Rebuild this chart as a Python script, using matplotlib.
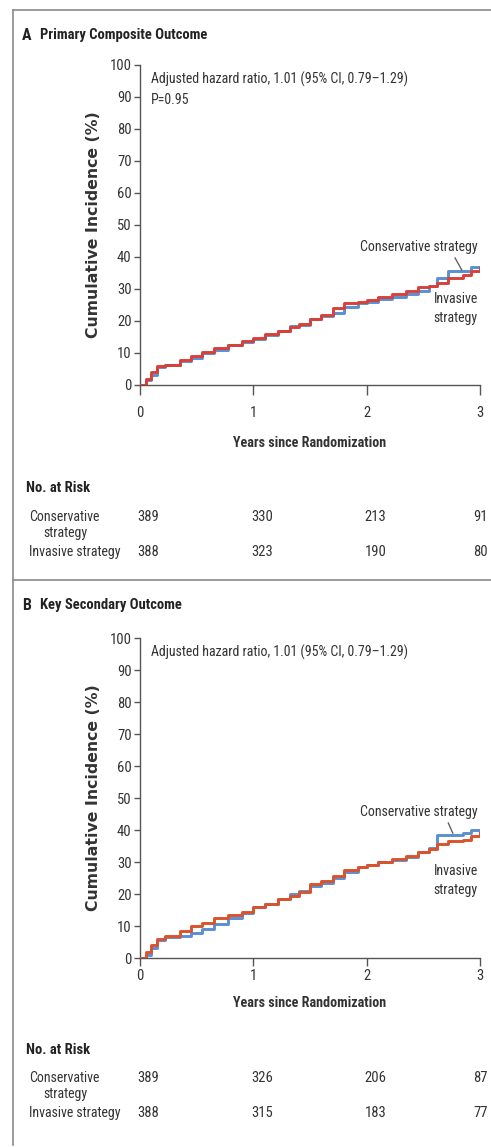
import matplotlib
matplotlib.use("Agg")
import matplotlib.pyplot as plt
import matplotlib.transforms as mtransforms
from matplotlib.lines import Line2D

plt.rcParams['font.family'] = ['Roboto Condensed', 'DejaVu Sans']

W, H = 491, 1147

# follow-up times (years) for the cumulative incidence steps
t_a = [0, 0.05, 0.10, 0.15, 0.22, 0.35, 0.45, 0.55, 0.65, 0.78, 0.90, 1.00, 1.10, 1.22, 1.32,
       1.40, 1.50, 1.60, 1.70, 1.80, 1.92, 2.00, 2.10, 2.22, 2.35, 2.45, 2.55, 2.62, 2.72,
       2.85, 2.92, 3.0]
cons_a = [0, 1.5, 3.0, 5.5, 6.3, 7.5, 8.5, 10, 11, 12.5, 13.5, 14.5, 15.5, 17, 18.5, 18.8,
          20.5, 21.5, 22.5, 24.5, 25.5, 26, 26.8, 27.5, 28.5, 29.5, 31, 33.5, 35.5, 35.5, 37, 37]
inv_a = [0, 2, 4, 5.8, 6.3, 7.8, 9, 10.3, 11.5, 12.5, 13.8, 14.8, 15.8, 17, 18, 19, 20.5, 22,
         24, 25.5, 26, 26.5, 27.5, 28.5, 29.5, 30.5, 31, 32, 33.5, 34.5, 35.5, 36.5]

t_b = t_a
cons_b = [0, 1, 3, 5.5, 6.5, 7.0, 7.8, 9, 10.5, 12.5, 14, 16, 17, 18.5, 20, 21, 22.5, 23.5,
          25, 27, 28.5, 29, 30, 30.5, 31.5, 33, 34.5, 38.5, 38.5, 39, 40, 39.5]
inv_b = [0, 2, 4, 6, 7, 8.5, 10, 11, 12.5, 13.5, 14.5, 15.8, 17, 18.5, 19.5, 20.5, 23, 24,
         25.5, 27.5, 28.5, 29, 30, 31, 32, 33, 34, 35.5, 36.5, 37, 38, 39]

risk_years = [0, 1, 2, 3]
risk_cons_a = [389, 330, 213, 91]
risk_inv_a = [388, 323, 190, 80]
risk_cons_b = [389, 326, 206, 87]
risk_inv_b = [388, 315, 183, 77]

hr_text = "Adjusted hazard ratio, 1.01 (95% CI, 0.79\u20131.29)"

# pixel layout of each panel: axes top/bottom, title row, tick/label offsets, risk rows
panels = [
    dict(letter="A", title="Primary Composite Outcome", top=65, bottom=385, title_y=35,
         t=t_a, cons=cons_a, inv=inv_a, p="P=0.95", red="#d8403a",
         risk_cons=risk_cons_a, risk_inv=risk_inv_a,
         tick_len=7.0, tick_pad=8.0, xlab_y=-0.16,
         rows=(488, 517, 533, 552),
         lab_cons=43, lead=((2.78, 39.7), (2.84, 35.9)), lab_inv=23.8),
    dict(letter="B", title="Key Secondary Outcome", top=638, bottom=958, title_y=605,
         t=t_b, cons=cons_b, inv=inv_b, p=None, red="#d9532c",
         risk_cons=risk_cons_b, risk_inv=risk_inv_b,
         tick_len=5.5, tick_pad=2.5, xlab_y=-0.12,
         rows=(1050, 1078, 1094, 1113),
         lab_cons=45.6, lead=((2.72, 42.2), (2.76, 39.0)), lab_inv=24.3),
]

blue = "#5a8fd2"
grey = "#555555"
txt = "#333333"
dark = "#222222"

fig = plt.figure(figsize=(W / 100, H / 100), dpi=100)


def fy(py):
    return 1 - py / H


# panel frames
frame = dict(color="#8a8a8a", lw=1.2, transform=fig.transFigure)
fig.add_artist(Line2D([13 / W, 1], [fy(10), fy(10)], **frame))
fig.add_artist(Line2D([13 / W, 1], [fy(579.5), fy(579.5)], **frame))
fig.add_artist(Line2D([13 / W, 13 / W], [fy(10), fy(1145)], **frame))

for pn in panels:
    top, bottom = pn["top"], pn["bottom"]
    ax = fig.add_axes([140 / W, fy(bottom), 340 / W, (bottom - top) / H])
    ax.plot(pn["t"], pn["cons"], drawstyle="steps-post", color=blue, lw=2.1, zorder=3)
    ax.plot(pn["t"], pn["inv"], drawstyle="steps-post", color=pn["red"], lw=2.1, zorder=4)
    ax.set_xlim(0, 3)
    ax.set_ylim(0, 100)
    ax.set_xticks(risk_years)
    ax.set_yticks(range(0, 101, 10))
    ax.spines[["top", "right"]].set_visible(False)
    for s in ("left", "bottom"):
        ax.spines[s].set_color(grey)
        ax.spines[s].set_linewidth(1.0)
    ax.tick_params(axis="y", length=4, width=1, color=grey, labelsize=10.5, labelcolor=txt,
                   pad=2)
    ax.tick_params(axis="x", length=pn["tick_len"], width=1, color=grey, labelsize=10.5,
                   labelcolor=txt, pad=pn["tick_pad"])
    ax.set_ylabel("Cumulative Incidence (%)", fontsize=11.3, fontweight="bold", color=txt,
                  family=["DejaVu Sans"], va="center")
    ax.yaxis.set_label_coords(-47 / 340, 0.5)
    ax.set_xlabel("Years since Randomization", fontsize=10.2, fontweight="bold", color=txt)
    ax.xaxis.set_label_coords(0.5, pn["xlab_y"])

    ax.text(0.1, 95.6, hr_text, fontsize=10, color=txt, va="center")
    if pn["p"]:
        ax.text(0.1, 89, pn["p"], fontsize=10, color=txt, va="center")

    ax.text(2.98, pn["lab_cons"], "Conservative strategy", fontsize=10, color=txt,
            ha="right", va="center")
    (x0, y0), (x1, y1) = pn["lead"]
    ax.plot([x0, x1], [y0, y1], color=grey, lw=0.9, zorder=5)
    ax.text(2.98, pn["lab_inv"], "Invasive\nstrategy", fontsize=10, color=txt,
            ha="right", va="center", multialignment="right", linespacing=1.45)

    fig.text(22 / W, fy(pn["title_y"]), pn["letter"], fontsize=11.5, fontweight="bold",
             color=dark, va="center")
    fig.text(40 / W, fy(pn["title_y"]), pn["title"], fontsize=10.5, fontweight="bold",
             color=dark, va="center")

    # number-at-risk table under the x axis; last column kept inside the frame
    tr = mtransforms.blended_transform_factory(ax.transData, fig.transFigure)
    y_head, y_cons, y_cons2, y_inv = pn["rows"]
    fig.text(26 / W, fy(y_head), "No. at Risk", fontsize=10.5, fontweight="bold",
             color=dark, va="center")
    fig.text(29 / W, fy(y_cons), "Conservative", fontsize=10, color=txt, va="center")
    fig.text(43 / W, fy(y_cons2), "strategy", fontsize=10, color=txt, va="center")
    fig.text(29 / W, fy(y_inv), "Invasive strategy", fontsize=10, color=txt, va="center")
    for yr, c, i in zip(risk_years, pn["risk_cons"], pn["risk_inv"]):
        if yr == risk_years[-1]:
            xpos, ha = yr + 0.07, "right"
        else:
            xpos, ha = yr - 0.02, "left"
        fig.text(xpos, fy(y_cons), str(c), transform=tr, fontsize=10.5, color=txt,
                 ha=ha, va="center")
        fig.text(xpos, fy(y_inv), str(i), transform=tr, fontsize=10.5, color=txt,
                 ha=ha, va="center")

fig.savefig("out.png", dpi=100)
